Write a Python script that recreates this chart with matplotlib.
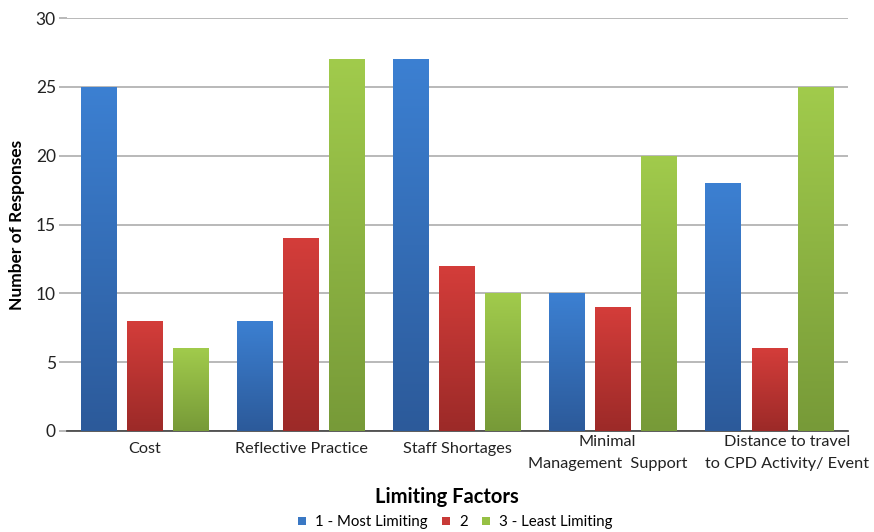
import matplotlib.pyplot as plt
import matplotlib.transforms as mtransforms
import numpy as np
from matplotlib.colors import LinearSegmentedColormap
from matplotlib.patches import Patch

plt.rcParams['font.family'] = ['Lato', 'DejaVu Sans']

factors = ['Cost', 'Reflective Practice', 'Staff Shortages',
           'Minimal\nManagement  Support', 'Distance to travel\nto CPD Activity/ Event']
series_names = ['1 - Most Limiting', '2', '3 - Least Limiting']
most_limiting = [25, 8, 27, 10, 18]
middle = [8, 14, 12, 9, 6]
least_limiting = [6, 27, 10, 20, 25]

# (bottom, top) shades for the gradient fill of each series
shades = [('#2c5a9a', '#3c80d2'),
          ('#9c2a28', '#d43d3a'),
          ('#779a38', '#a1cb4c')]
solid = ['#3a78c4', '#c83a37', '#96c044']

fig = plt.figure(figsize=(8.74, 5.32), dpi=100)
ax = fig.add_axes([0.0767, 0.19, 0.893, 0.776])

x = np.arange(len(factors))
width = 0.23
step = 0.295
grad = np.linspace(0, 1, 256).reshape(-1, 1)

for i, vals in enumerate([most_limiting, middle, least_limiting]):
    cmap = LinearSegmentedColormap.from_list('g%d' % i, shades[i])
    bars = ax.bar(x + (i - 1) * step, vals, width, zorder=3)
    for b in bars:
        x0, y0 = b.get_x(), b.get_y()
        im = ax.imshow(grad, cmap=cmap, origin='lower', aspect='auto',
                       extent=(x0, x0 + b.get_width(), y0, y0 + b.get_height()),
                       zorder=3)
        im.set_clip_path(b)
        b.set_facecolor('none')
        b.set_edgecolor('none')

ax.set_xlim(-0.5, len(factors) - 0.5)
ax.set_ylim(0, 30)
ax.set_yticks(range(0, 31, 5))
ax.yaxis.grid(True, color='#a6a6a6', linewidth=1.1, zorder=0)
ax.set_axisbelow(True)

for s in ['top', 'right', 'left']:
    ax.spines[s].set_visible(False)
ax.spines['bottom'].set_color('#404040')
ax.spines['bottom'].set_linewidth(1.2)

ax.tick_params(axis='y', length=6, color='#a6a6a6', width=1.1, labelsize=12.5,
               labelcolor='#222222', pad=2)
ax.set_xticks(x)
ax.set_xticklabels(factors, fontsize=11.7, color='#222222', va='center',
                   linespacing=1.75)
ax.tick_params(axis='x', length=0, pad=13)

# nudge the wrapped labels so they don't run into each other
shifts = [(0, 0), (0, 0), (0, 0), (-6, -4), (18, -4)]
for lab, (dx, dy) in zip(ax.get_xticklabels(), shifts):
    lab.set_transform(lab.get_transform() +
                      mtransforms.ScaledTranslation(dx / 100, dy / 100, fig.dpi_scale_trans))

ax.set_ylabel('Number of Responses', fontsize=12.5, fontweight='bold', labelpad=8)
ax.set_xlabel('Limiting Factors', fontsize=14.5, fontweight='bold')
ax.xaxis.set_label_coords(0.487, -0.137)

handles = [Patch(facecolor=c) for c in solid]
fig.legend(handles, series_names, loc='center', bbox_to_anchor=(0.521, 0.018),
           ncol=3, frameon=False, fontsize=10.8, handlelength=0.5, handleheight=0.5,
           handletextpad=0.6, columnspacing=1.0)

fig.savefig('out.png', dpi=100, facecolor='white')
